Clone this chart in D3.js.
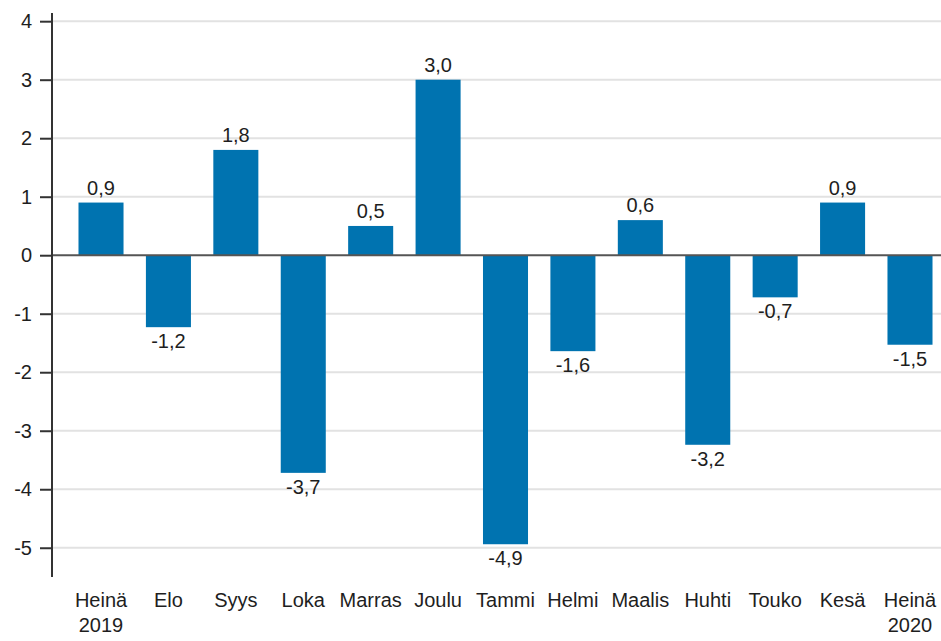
<!DOCTYPE html>
<html><head><meta charset="utf-8">
<script src="https://cdn.jsdelivr.net/npm/d3@7"></script>
<style>html,body{margin:0;padding:0;background:#fff;}svg{display:block;}</style>
</head><body>
<svg id="chart" width="941" height="641"></svg>
<script>
const categories = [["Heinä","2019"],["Elo"],["Syys"],["Loka"],["Marras"],["Joulu"],["Tammi"],["Helmi"],["Maalis"],["Huhti"],["Touko"],["Kesä"],["Heinä","2020"]];
const values = [0.9,-1.23,1.8,-3.72,0.5,3.0,-4.94,-1.64,0.6,-3.24,-0.72,0.9,-1.53];
const yTicks = [4,3,2,1,0,-1,-2,-3,-4,-5];

const svg = d3.select("#chart");
const font = "'Liberation Sans', Arial, sans-serif";
const textColor = "#1e1e1e";
const fmt = v => d3.format(".1f")(v).replace(".", ",").replace("−","-");

const x = d3.scaleBand().domain(d3.range(values.length)).range([52, 959]).paddingInner(0.332).paddingOuter(0.393);
const y = d3.scaleLinear().domain([-5.5, 4.14]).range([577, 13]);

// gridlines
svg.append("g").selectAll("line").data(yTicks.filter(t => t !== 0)).join("line")
  .attr("x1", 52).attr("x2", 941)
  .attr("y1", d => y(d)).attr("y2", d => y(d))
  .attr("stroke", "#e2e2e2").attr("stroke-width", 2);

// bars
svg.append("g").selectAll("rect").data(values).join("rect")
  .attr("x", (d,i) => x(i)).attr("width", x.bandwidth())
  .attr("y", d => y(Math.max(0,d))).attr("height", d => Math.abs(y(d) - y(0)))
  .attr("fill", "#0073b0");

// zero line
svg.append("line").attr("x1", 52).attr("x2", 941).attr("y1", y(0)).attr("y2", y(0))
  .attr("stroke", "#555").attr("stroke-width", 2);

// y axis
const yAxis = d3.axisLeft(y).tickValues(yTicks).tickSize(12).tickPadding(8).tickFormat(d => String(d));
const ga = svg.append("g").attr("transform", "translate(52,0)").call(yAxis);
ga.select(".domain").attr("d", `M0,${y(4.14)}V${y(-5.5)}`).attr("stroke", "#333").attr("stroke-width", 2);
ga.selectAll(".tick line").attr("stroke", "#333").attr("stroke-width", 2);
ga.selectAll(".tick text").attr("font-family", font).attr("font-size", 20).attr("fill", textColor);

// value labels
svg.append("g").selectAll("text").data(values).join("text")
  .attr("x", (d,i) => x(i) + x.bandwidth()/2)
  .attr("y", d => d >= 0 ? y(d) - 8 : y(d) + 21)
  .attr("text-anchor", "middle")
  .attr("font-family", font).attr("font-size", 20).attr("fill", textColor)
  .text(d => fmt(d));

// category labels
const cl = svg.append("g").selectAll("text").data(categories).join("text")
  .attr("x", (d,i) => x(i) + x.bandwidth()/2)
  .attr("y", 607)
  .attr("text-anchor", "middle")
  .attr("font-family", font).attr("font-size", 20).attr("fill", textColor);
cl.selectAll("tspan").data(d => d).join("tspan")
  .attr("x", function(){ return this.parentNode.getAttribute("x"); })
  .attr("dy", (d,i) => i === 0 ? 0 : 25)
  .text(d => d);
</script>
</body></html>
